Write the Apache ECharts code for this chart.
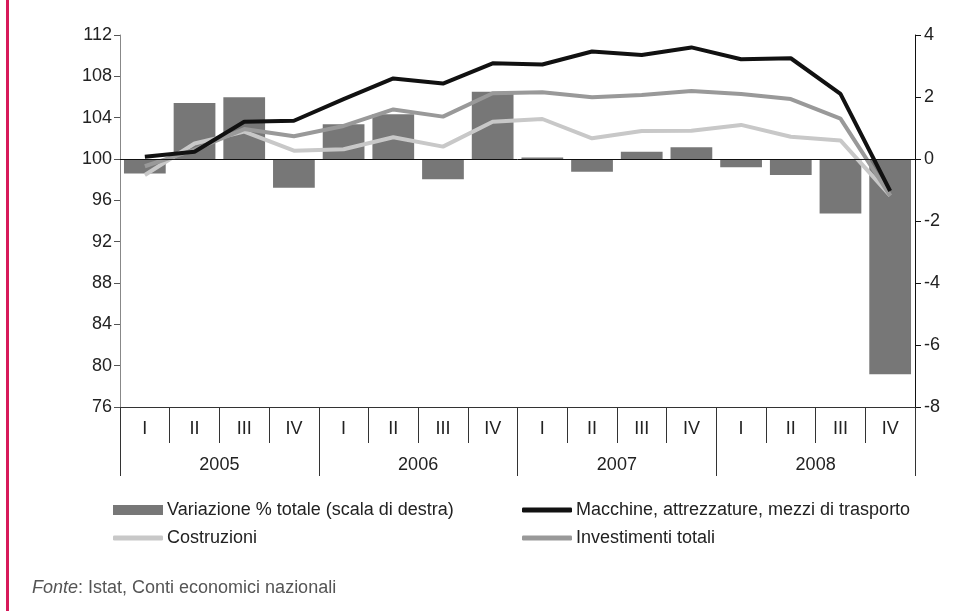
<!DOCTYPE html>
<html><head><meta charset="utf-8">
<script src="https://cdn.jsdelivr.net/npm/echarts@6/dist/echarts.min.js"></script>
<style>html,body{margin:0;padding:0;background:#fff}#c{width:980px;height:611px}</style>
</head><body><div id="c"></div>
<script>
var quarters = ['I','II','III','IV','I','II','III','IV','I','II','III','IV','I','II','III','IV'];
var years = ['2005','2006','2007','2008'];
var variazione = [-0.47,1.81,1.99,-0.93,1.12,1.44,-0.65,2.17,0.05,-0.41,0.23,0.38,-0.27,-0.52,-1.76,-6.94];
var macchine = [100.22,100.7,103.6,103.7,105.8,107.8,107.3,109.26,109.15,110.4,110.07,110.8,109.65,109.75,106.3,96.9];
var costruzioni = [98.45,101.5,102.65,100.8,100.94,102.1,101.2,103.6,103.87,102.0,102.7,102.74,103.3,102.16,101.8,96.45];
var totali = [99.3,100.9,102.9,102.2,103.2,104.8,104.1,106.36,106.45,105.97,106.2,106.58,106.3,105.8,103.9,96.45];
var leftTicks = {min:76,max:112,interval:4};
var rightTicks = {min:-8,max:4,interval:2};

var FONT = 'Liberation Sans';
var FS = 18;
var chart = echarts.init(document.getElementById('c'));
function lg(name, left, top, icon, h, color){
  return {left:left, top:top, padding:0, data:[{name:name, icon:icon, itemStyle:{color:color}}], itemWidth:50, itemHeight:h,
    textStyle:{fontFamily:FONT,fontSize:FS,color:'#222',padding:[0,0,0,-1]}, selectedMode:false};
}
chart.setOption({
  animation:false,
  textStyle:{fontFamily:FONT},
  grid:{left:120,right:65,top:35,bottom:204},
  legend:[
    lg('Variazione % totale (scala di destra)',113,501,'rect',10,'#777777'),
    lg('Macchine, attrezzature, mezzi di trasporto',522,501,'roundRect',5,'#111111'),
    lg('Costruzioni',113,529,'roundRect',5,'#c8c8c8'),
    lg('Investimenti totali',522,529,'roundRect',5,'#999999')
  ],
  xAxis:[
    {type:'category',data:quarters,boundaryGap:true,position:'bottom',
     axisLine:{onZero:false,lineStyle:{color:'#333',width:1}},
     axisTick:{show:true,interval:0,length:36,lineStyle:{color:'#333'}},
     axisLabel:{interval:0,margin:13,fontSize:FS,color:'#222',fontFamily:FONT}},
    {type:'category',data:years,boundaryGap:true,position:'bottom',offset:36,
     axisLine:{show:false,onZero:false},
     axisTick:{show:true,interval:0,length:33,lineStyle:{color:'#333'}},
     axisLabel:{interval:0,margin:13,fontSize:FS,color:'#222',fontFamily:FONT}}
  ],
  yAxis:[
    {type:'value',min:leftTicks.min,max:leftTicks.max,interval:leftTicks.interval,position:'left',
     splitLine:{show:false},
     axisLine:{show:true,lineStyle:{color:'#888'}},
     axisTick:{show:true,length:6,lineStyle:{color:'#555'}},
     axisLabel:{margin:8,fontSize:FS,color:'#222',fontFamily:FONT}},
    {type:'value',min:rightTicks.min,max:rightTicks.max,interval:rightTicks.interval,position:'right',
     splitLine:{show:false},
     axisLine:{show:true,lineStyle:{color:'#111'}},
     axisTick:{show:true,length:6,lineStyle:{color:'#111'}},
     axisLabel:{margin:9,fontSize:FS,color:'#222',fontFamily:FONT}}
  ],
  series:[
    {name:'Variazione % totale (scala di destra)',type:'bar',xAxisIndex:0,yAxisIndex:1,data:variazione,
     barCategoryGap:'16%',itemStyle:{color:'#777777'},
     markLine:{silent:true,symbol:'none',label:{show:false},lineStyle:{color:'#111',width:1,type:'solid'},data:[{yAxis:0}]}},
    {name:'Costruzioni',type:'line',yAxisIndex:0,data:costruzioni,showSymbol:false,
     lineStyle:{color:'#c8c8c8',width:4},itemStyle:{color:'#c8c8c8'}},
    {name:'Investimenti totali',type:'line',yAxisIndex:0,data:totali,showSymbol:false,
     lineStyle:{color:'#999999',width:4},itemStyle:{color:'#999999'}},
    {name:'Macchine, attrezzature, mezzi di trasporto',type:'line',yAxisIndex:0,data:macchine,showSymbol:false,
     lineStyle:{color:'#111111',width:4},itemStyle:{color:'#111111'}}
  ],
  graphic:[
    {type:'rect',left:6,top:0,shape:{width:3,height:611},style:{fill:'#d7195a'}},
    {type:'text',left:32,top:579,style:{text:'{i|Fonte}: Istat, Conti economici nazionali',
      rich:{i:{fontStyle:'italic',fontFamily:FONT,fontSize:FS,fill:'#555'}},
      fontFamily:FONT,fontSize:FS,fill:'#555'}}
  ]
});
</script></body></html>
